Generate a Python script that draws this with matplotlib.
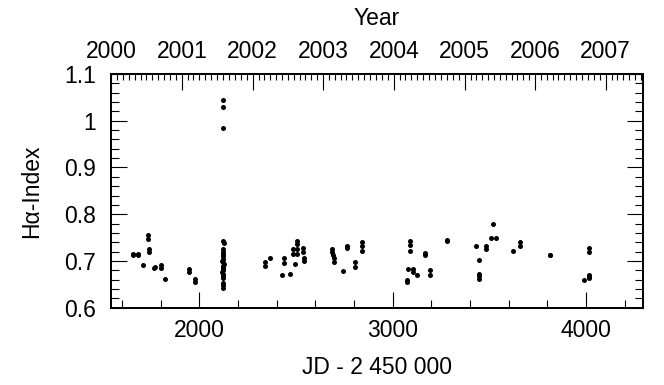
import numpy as np
import matplotlib
matplotlib.use("Agg")
import matplotlib.pyplot as plt
from matplotlib.ticker import FixedLocator, MultipleLocator

jd = [
    1655, 1658, 1682, 1685, 1710,
    1736, 1736, 1737, 1737, 1766, 1768,
    1802, 1802, 1821, 1947, 1947, 1978, 1978,
    2121, 2121, 2121,
    2124, 2125, 2122, 2120, 2123, 2121, 2124, 2119, 2122, 2125, 2120, 2123,
    2121, 2124, 2119, 2122, 2120, 2121, 2120, 2121, 2120,
    2340, 2340, 2366, 2426, 2440, 2440, 2469,
    2505, 2505, 2485, 2505, 2485, 2505, 2495,
    2538, 2538, 2539, 2539,
    2685, 2687, 2692, 2695, 2695, 2745, 2765, 2765, 2805, 2805,
    2840, 2840, 2840,
    3073, 3073, 3081, 3104, 3104, 3090, 3090, 3090, 3128, 3167, 3167,
    3193, 3193, 3280, 3281, 3431, 3447, 3447, 3447, 3447,
    3483, 3485, 3506, 3519, 3535, 3624, 3659, 3659, 3814, 3814,
    3991, 4013, 4014, 4013, 4013, 4014,
]
halpha = [
    0.715, 0.712, 0.715, 0.712, 0.692,
    0.756, 0.747, 0.725, 0.719, 0.685, 0.687,
    0.692, 0.685, 0.662, 0.683, 0.676, 0.662, 0.656,
    1.044, 1.030, 0.984,
    0.743, 0.738, 0.725, 0.720, 0.715, 0.710, 0.705, 0.700, 0.697, 0.693, 0.690, 0.687,
    0.683, 0.680, 0.677, 0.673, 0.668, 0.664, 0.652, 0.648, 0.643,
    0.697, 0.689, 0.707, 0.670, 0.707, 0.696, 0.673,
    0.742, 0.737, 0.725, 0.725, 0.714, 0.714, 0.694,
    0.727, 0.720, 0.706, 0.699,
    0.725, 0.719, 0.712, 0.707, 0.697, 0.678, 0.733, 0.728, 0.697, 0.687,
    0.740, 0.731, 0.722,
    0.659, 0.654, 0.682, 0.683, 0.677, 0.742, 0.735, 0.721, 0.669, 0.717, 0.712,
    0.680, 0.669, 0.744, 0.742, 0.732, 0.701, 0.673, 0.668, 0.662,
    0.731, 0.725, 0.749, 0.778, 0.750, 0.722, 0.740, 0.733, 0.713, 0.712,
    0.659, 0.669, 0.664, 0.666, 0.727, 0.719,
]

y_ticks = [0.6, 0.7, 0.8, 0.9, 1.0, 1.1]
y_labels = ["0.6", "0.7", "0.8", "0.9", "1", "1.1"]
x_ticks = [2000, 3000, 4000]
years = list(range(2000, 2008))

# JD - 2450000 of calendar dates (JD 2450000.0 = 1995-10-09 12:00 UT)
ref = np.datetime64("1995-10-09T12:00")
def to_jd(dates):
    return (np.array(dates, dtype="datetime64[m]") - ref) / np.timedelta64(1, "D")

year_pos = to_jd([f"{y}-01-01" for y in years])
month_pos = to_jd(np.arange("2000-01", "2008-01", dtype="datetime64[M]"))

plt.rcParams.update({
    "font.family": ["Liberation Sans", "DejaVu Sans"],
    "font.size": 16.5,
})

fig = plt.figure(figsize=(6.64, 3.85), dpi=100)
ax = fig.add_axes([0.1672, 0.2008, 0.8016, 0.607])

ax.plot(jd, halpha, "o", color="black", ms=3.6, mec="black", mew=0)

ax.set_xlim(1543, 4296)
ax.set_ylim(0.6, 1.1)

ax.xaxis.set_major_locator(FixedLocator(x_ticks))
ax.xaxis.set_minor_locator(MultipleLocator(200))
ax.set_yticks(y_ticks)
ax.set_yticklabels(y_labels)
ax.yaxis.set_minor_locator(MultipleLocator(0.02))

ax.tick_params(axis="x", which="both", direction="in", top=False, bottom=True,
               width=0.8, pad=8)
ax.tick_params(axis="y", which="both", direction="in", left=True, right=True,
               width=0.8, pad=11)
ax.tick_params(which="major", length=11.5)
ax.tick_params(which="minor", length=6)

ax.set_xlabel("JD - 2 450 000", labelpad=10)
ax.set_ylabel("H\u03b1-Index", labelpad=15)

top = ax.twiny()
top.set_xlim(ax.get_xlim())
top.xaxis.set_major_locator(FixedLocator(year_pos))
top.xaxis.set_minor_locator(FixedLocator(month_pos))
top.set_xticklabels([str(y) for y in years])
top.tick_params(axis="x", which="major", direction="in", length=11.5, width=0.8, pad=8)
top.tick_params(axis="x", which="minor", direction="in", length=4.5, width=0.8)
top.set_xlabel("Year", labelpad=11)

for a in (ax, top):
    for s in a.spines.values():
        s.set_linewidth(1.3)

fig.savefig("out.png", dpi=100)
